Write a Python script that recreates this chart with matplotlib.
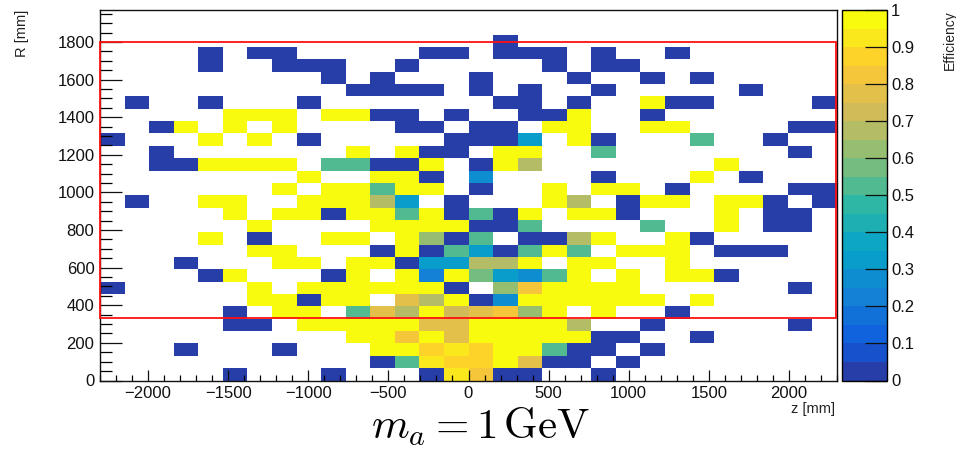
import numpy as np
import matplotlib
matplotlib.use("Agg")
import matplotlib.pyplot as plt
from matplotlib.colors import LinearSegmentedColormap, ListedColormap
from matplotlib.patches import Rectangle
from matplotlib.ticker import MultipleLocator

plt.rcParams['font.family'] = ['Liberation Sans', 'DejaVu Sans']
plt.rcParams['mathtext.fontset'] = 'cm'

# Binning of the efficiency map
z_min, z_max, n_z = -2300.0, 2300.0, 30
r_min, r_max, n_r = 0.0, 1970.0, 30

n = np.nan
# Efficiency per (R bin, z bin); rows from R = 0 upwards, NaN = no entries
eff_rows = [
    [n, n, n, n, n, 0, n, n, n, 0, n, n, n, 0, .90, .82, 0, 0, n, n, 0, n, n, n, n, n, n, n, n, n],
    [n, n, n, n, n, n, n, n, n, n, n, 0, .52, .90, .86, .86, 1, .77, 0, 0, n, 0, n, n, n, n, n, n, n, n],
    [n, n, n, 0, n, n, n, 0, n, n, n, 1, 1, .85, .90, .85, 1, 1, .52, 0, 0, n, 0, n, n, n, n, n, n, n],
    [n, n, n, n, n, n, n, n, n, n, 1, 1, .83, 1, .77, 1, 1, 1, 1, 1, 0, 0, n, n, 0, n, n, n, n, n],
    [n, n, n, n, n, 0, 0, n, 1, 1, 1, 1, 1, .77, .77, 1, 1, 1, 1, .67, n, n, 0, n, n, n, n, n, 0, n],
    [n, n, n, n, n, 0, n, 1, 1, n, .52, .77, .67, 1, .70, .75, .83, .62, 1, n, 1, n, n, 0, n, n, n, n, n, n],
    [n, n, n, n, n, n, 1, 1, 0, 1, 1, n, .77, .67, 1, 0, .27, 1, 1, 1, 1, 1, 1, n, 1, n, n, n, n, n],
    [0, n, n, n, n, n, 1, n, 1, 1, 1, 1, 1, 1, 0, n, .62, .83, 1, 1, 1, 1, n, n, n, n, n, n, 0, n],
    [n, n, n, n, 0, 1, n, n, n, 0, 1, n, 1, .22, 1, .57, .32, .28, .52, 1, n, 1, n, 1, 1, 0, n, n, n, n],
    [n, n, n, 0, n, n, n, 1, 1, n, 1, 1, 0, .32, .32, .67, .67, 1, n, 1, 1, n, n, 1, n, n, n, n, n, n],
    [n, n, n, n, n, n, 1, 1, n, n, n, 0, 1, 0, .52, .32, 0, .52, 1, .52, n, 1, 1, 1, n, 0, 0, 0, n, n],
    [n, n, n, n, 1, n, 0, n, n, 1, 1, n, 1, .62, 0, .52, n, 0, 0, .67, 1, n, n, 1, 0, n, n, n, n, n],
    [n, n, n, n, n, n, 1, n, n, n, n, 1, 1, 1, 1, 0, 0, .52, n, n, n, n, .52, n, n, 1, n, 0, 0, n],
    [n, n, n, n, n, 1, n, 1, 1, 0, 1, 1, .52, 1, 0, .52, 0, 1, n, 1, 1, 0, n, n, n, 1, n, 0, 0, n],
    [n, 0, n, n, 1, 1, n, n, 1, 1, 1, .67, .32, n, 0, n, n, n, 1, .67, n, 0, 1, 1, n, 1, 1, 0, n, 0],
    [n, n, n, n, n, n, n, 1, n, 1, 1, .52, 1, 1, n, 0, n, n, 1, n, 1, 1, n, 0, n, n, n, n, 0, 0],
    [n, n, n, n, n, n, n, n, 1, n, n, 1, 1, 0, n, .25, n, n, n, n, 0, n, n, n, 1, n, 0, n, n, n],
    [n, n, 0, 0, 1, 1, 1, 1, n, .52, .52, 0, 0, 1, n, 0, 1, .67, n, n, n, n, n, n, n, 1, n, n, n, n],
    [n, n, 0, n, n, n, n, n, n, n, 1, n, 1, 0, 0, n, 1, 1, n, n, .52, n, n, n, n, n, n, n, 0, n],
    [0, n, n, n, 1, n, 1, n, 0, n, n, n, n, n, 0, 0, 0, .32, n, 1, 0, n, n, n, .52, n, n, 0, n, n],
    [n, n, 0, 1, n, 1, n, 1, n, n, n, n, 0, 0, n, 0, 0, n, 1, 1, n, n, 1, 1, n, n, n, n, 0, 0],
    [n, n, n, n, n, 1, 1, 1, n, 1, 1, 0, 0, n, 0, n, n, 0, 0, 1, n, n, 0, n, n, n, n, n, n, n],
    [n, 0, n, n, 0, n, n, n, 0, n, n, n, n, n, n, n, 0, 0, n, 0, n, n, 1, 0, 0, n, n, n, n, 0],
    [n, n, n, n, n, n, n, n, n, n, 0, 0, 0, 0, n, 0, n, 0, n, n, 0, n, n, n, n, n, 0, n, n, n],
    [n, n, n, n, n, n, n, n, n, 0, n, 0, n, n, n, 0, n, n, n, 0, n, n, 0, n, 0, n, n, n, n, n],
    [n, n, n, n, 0, n, n, 0, 0, 0, n, n, 0, n, n, n, n, n, 0, n, 0, 0, n, n, n, n, n, n, n, n],
    [n, n, n, n, 0, n, 0, 0, n, n, n, n, n, 0, 0, n, 0, 0, 0, n, 0, n, n, 0, n, n, n, n, n, n],
    [n, n, n, n, n, n, n, n, n, n, n, n, n, n, n, n, 0, n, n, n, n, n, n, n, n, n, n, n, n, n],
    [n] * 30,
    [n] * 30,
]

# Selection window drawn in red: R from 330 to 1800 mm over the full z range
box_r = (330.0, 1800.0)
box_z = (-2300.0, 2292.0)

cbar_ticks = [round(0.1 * i, 1) for i in range(11)]
cbar_ticklabels = ['0', '0.1', '0.2', '0.3', '0.4', '0.5', '0.6', '0.7', '0.8', '0.9', '1']

# ROOT "bird" palette, quantised into 20 contour levels
stops = [0.0, 0.125, 0.25, 0.375, 0.5, 0.625, 0.75, 0.875, 1.0]
red = [0.2082, 0.0592, 0.0780, 0.0232, 0.1802, 0.5301, 0.8186, 0.9956, 0.9764]
green = [0.1664, 0.3599, 0.5041, 0.6419, 0.7178, 0.7492, 0.7328, 0.7862, 0.9832]
blue = [0.5293, 0.8684, 0.8385, 0.7914, 0.6425, 0.4662, 0.3499, 0.1968, 0.0539]
bird = LinearSegmentedColormap.from_list(
    'bird', [(s, (r, g, b)) for s, r, g, b in zip(stops, red, green, blue)], N=255)
n_levels = 20
level_pos = [int((i + 0.99) * 255 / n_levels) / 254.0 for i in range(n_levels)]
cmap = ListedColormap([bird(p) for p in level_pos])

eff = np.array(eff_rows, dtype=float)
z_edges = np.linspace(z_min, z_max, n_z + 1)
r_edges = np.linspace(r_min, r_max, n_r + 1)

W, H = 956, 449
fig = plt.figure(figsize=(W / 100, H / 100), dpi=100)
ax = fig.add_axes([100 / W, 68.5 / H, 737 / W, 370.5 / H])
mesh = ax.pcolormesh(z_edges, r_edges, np.ma.masked_invalid(eff), cmap=cmap,
                     vmin=0, vmax=1, shading='flat')
ax.set_xlim(z_min, z_max)
ax.set_ylim(r_min, r_max)

ax.add_patch(Rectangle((box_z[0], box_r[0]), box_z[1] - box_z[0], box_r[1] - box_r[0],
                       fill=False, edgecolor='#ff1010', linewidth=1.3, zorder=4,
                       clip_on=False))

ax.xaxis.set_major_locator(MultipleLocator(500))
ax.xaxis.set_minor_locator(MultipleLocator(100))
ax.yaxis.set_major_locator(MultipleLocator(200))
ax.yaxis.set_minor_locator(MultipleLocator(50))
ax.tick_params(axis='x', which='major', direction='in', length=8, width=0.9,
               labelsize=12, pad=4, top=False, colors='#111')
ax.tick_params(axis='x', which='minor', direction='in', length=4, width=0.9, top=False)
ax.tick_params(axis='y', which='major', direction='in', length=16, width=0.9,
               labelsize=12, pad=4, right=False, colors='#111')
ax.tick_params(axis='y', which='minor', direction='in', length=8.5, width=0.9, right=False)
ax.set_xticks([-2000, -1500, -1000, -500, 0, 500, 1000, 1500, 2000])
ax.set_xticklabels(['\u22122000', '\u22121500', '\u22121000', '\u2212500', '0',
                    '500', '1000', '1500', '2000'])
for s in ax.spines.values():
    s.set_linewidth(1.0)
    s.set_color('#111')

cax = fig.add_axes([842 / W, 68.5 / H, 45 / W, 370.5 / H])
cb = fig.colorbar(mesh, cax=cax, ticks=cbar_ticks)
cb.set_ticklabels(cbar_ticklabels)
cb.outline.set_linewidth(1.0)
cax.tick_params(direction='in', length=16, width=0.9, labelsize=12, pad=3, colors='#111')
cax.minorticks_off()

fig.text(22 / W, 1 - 10 / H, 'R [mm]', rotation=90, ha='center', va='top',
         fontsize=10.5, color='#222')
fig.text(835 / W, 1 - 409 / H, 'z [mm]', ha='right', va='center',
         fontsize=10.5, color='#222')
fig.text(950 / W, 1 - 10 / H, 'Efficiency', rotation=90, ha='center', va='top',
         fontsize=10, color='#222')
fig.text(481 / W, 1 - 427 / H, r'$m_a = 1\,\mathrm{GeV}$', ha='center', va='center',
         fontsize=31)

fig.savefig('out.png', dpi=100)
